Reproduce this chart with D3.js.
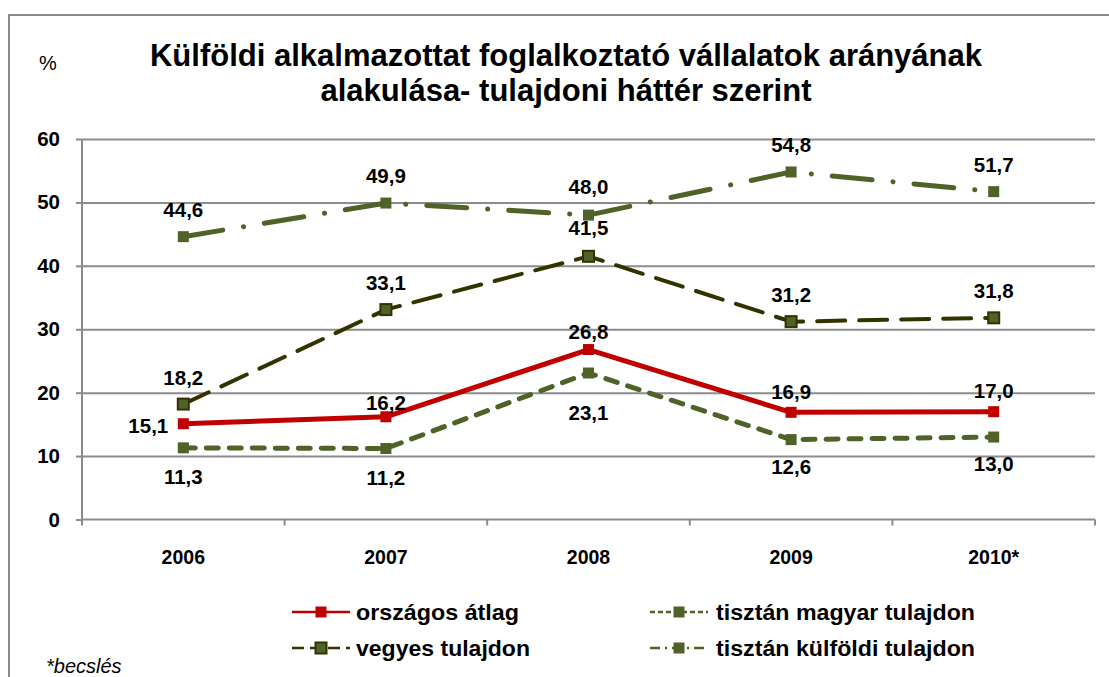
<!DOCTYPE html>
<html>
<head>
<meta charset="utf-8">
<script src="https://cdn.jsdelivr.net/npm/d3@7/dist/d3.min.js"></script>
<style>
  body { margin: 0; background: #fff; }
  text { font-family: Arial, "Liberation Sans", sans-serif; fill: #000; }
</style>
</head>
<body>
<svg id="chart" width="1109" height="677"></svg>
<script>
// Years on the category axis (2010 is an estimate)
const years = ["2006", "2007", "2008", "2009", "2010*"];

// Share of firms employing foreign workers, % by ownership background
const orszagosAtlag    = [15.1, 16.2, 26.8, 16.9, 17.0];
const magyarTulajdon   = [11.3, 11.2, 23.1, 12.6, 13.0];
const vegyesTulajdon   = [18.2, 33.1, 41.5, 31.2, 31.8];
const kulfoldiTulajdon = [44.6, 49.9, 48.0, 54.8, 51.7];

const yTicks = [0, 10, 20, 30, 40, 50, 60];
const seriesNames = ["országos átlag", "tisztán magyar tulajdon", "vegyes tulajdon", "tisztán külföldi tulajdon"];

const titleLines = ["Külföldi alkalmazottat foglalkoztató vállalatok arányának",
                    "alakulása- tulajdoni háttér szerint"];

const svg = d3.select("#chart");
const plot = { left: 82, right: 1095, top: 139, bottom: 519.5 };

const x = d3.scaleBand().domain(years).range([plot.left, plot.right]);
const y = d3.scaleLinear().domain([0, 60]).range([plot.bottom, plot.top]);
const cx = d => x(d) + x.bandwidth() / 2;
const fmt = v => d3.format(".1f")(v).replace(".", ",");

// outer frame
svg.append("rect")
  .attr("x", 9).attr("y", 15).attr("width", 1130).attr("height", 700)
  .attr("fill", "none").attr("stroke", "#8c8c8c").attr("stroke-width", 2);

// title
svg.append("text")
  .attr("x", 566).attr("y", 66)
  .attr("text-anchor", "middle")
  .style("font-size", "31px").style("font-weight", "bold")
  .selectAll("tspan").data(titleLines).join("tspan")
  .attr("x", 566).attr("dy", (d, i) => i === 0 ? 0 : 35)
  .text(d => d);

// unit label
svg.append("text").attr("x", 48).attr("y", 70)
  .attr("text-anchor", "middle").style("font-size", "20px").text("%");

// horizontal gridlines
const grid = svg.append("g").attr("transform", `translate(${plot.left},0)`)
  .call(d3.axisLeft(y).tickValues(yTicks.filter(t => t > 0)).tickSize(-(plot.right - plot.left)).tickFormat(""));
grid.select(".domain").remove();
grid.selectAll("line").attr("stroke", "#8c8c8c").attr("stroke-width", 2);

// y axis
const yAxis = svg.append("g").attr("transform", `translate(${plot.left},0)`)
  .call(d3.axisLeft(y).tickValues(yTicks).tickSize(6).tickPadding(16).tickFormat(d3.format("d")));
yAxis.select(".domain").attr("stroke", "#8c8c8c").attr("stroke-width", 2)
  .attr("d", `M0,${plot.top}V${plot.bottom}`);
yAxis.selectAll("line").attr("stroke", "#8c8c8c").attr("stroke-width", 2);
yAxis.selectAll("text").style("font-size", "20.5px").style("font-weight", "bold");

// x axis: baseline with ticks at category boundaries
const xAxis = svg.append("g").attr("transform", `translate(0,${plot.bottom})`);
xAxis.append("line").attr("x1", plot.left).attr("x2", plot.right)
  .attr("stroke", "#8c8c8c").attr("stroke-width", 2);
xAxis.selectAll("line.tick").data(years.map(d => x(d)).concat([plot.right])).join("line")
  .attr("class", "tick")
  .attr("x1", d => d).attr("x2", d => d).attr("y1", 0).attr("y2", 6)
  .attr("stroke", "#8c8c8c").attr("stroke-width", 2);
xAxis.selectAll("text").data(years).join("text")
  .attr("x", d => cx(d)).attr("y", 44)
  .attr("text-anchor", "middle")
  .style("font-size", "19.5px").style("font-weight", "bold")
  .text(d => d);

// series styling and label placement
const series = [
  { name: seriesNames[2], values: vegyesTulajdon, color: "#333300", width: 4, dash: "28,14",
    mFill: "#4f6228", mStroke: "#333300", legendDash: "12,6",
    labelDy: [-26, -27, -28, -27, -27], labelDx: [0, 0, 0, 0, 0] },
  { name: seriesNames[3], values: kulfoldiTulajdon, color: "#4f6228", width: 5, dash: "40,21,0.1,21",
    mFill: "#4f6228", mStroke: "#4f6228", legendDash: "10,5,2,5",
    labelDy: [-27, -27, -28, -27, -27], labelDx: [0, 0, 0, 0, 0] },
  { name: seriesNames[1], values: magyarTulajdon, color: "#4f6228", width: 5, dash: "12,11",
    mFill: "#4f6228", mStroke: "#4f6228", legendDash: "5,3",
    labelDy: [29, 29, 40, 27, 27], labelDx: [0, 0, 0, 0, 0] },
  { name: seriesNames[0], values: orszagosAtlag, color: "#c00000", width: 5, dash: null,
    mFill: "#c00000", mStroke: "#c00000", legendDash: null,
    labelDy: [2, -14, -18, -21, -21], labelDx: [-35, 0, 0, 0, 0] }
];

const line = d3.line().x(d => cx(d.year)).y(d => y(d.v));
const marker = 11;

series.forEach(s => {
  const pts = years.map((yr, i) => ({ year: yr, v: s.values[i], i }));
  const g = svg.append("g");
  g.append("path").datum(pts)
    .attr("d", line)
    .attr("fill", "none")
    .attr("stroke", s.color)
    .attr("stroke-width", s.width)
    .attr("stroke-linecap", s.dash ? "round" : "butt")
    .attr("stroke-linejoin", "round")
    .attr("stroke-dasharray", s.dash);
  g.selectAll("rect").data(pts).join("rect")
    .attr("x", d => cx(d.year) - marker / 2)
    .attr("y", d => y(d.v) - marker / 2)
    .attr("width", marker).attr("height", marker)
    .attr("fill", s.mFill)
    .attr("stroke", s.mStroke).attr("stroke-width", s.mStroke === s.mFill ? 0 : 2);
  g.selectAll("text").data(pts).join("text")
    .attr("x", d => cx(d.year) + s.labelDx[d.i])
    .attr("y", d => y(d.v) + s.labelDy[d.i])
    .attr("dy", "0.35em")
    .attr("text-anchor", "middle")
    .style("font-size", "20.5px").style("font-weight", "bold")
    .text(d => fmt(d.v));
});

// legend (2 x 2)
const legendItems = [
  { s: series[3], x: 292, y: 612, tx: 356, tw: 163 },
  { s: series[2], x: 650, y: 612, tx: 716, tw: 259 },
  { s: series[0], x: 292, y: 648, tx: 356, tw: 174 },
  { s: series[1], x: 650, y: 648, tx: 716, tw: 259 }
];
const legend = svg.append("g");
legendItems.forEach(it => {
  const g = legend.append("g");
  g.append("line")
    .attr("x1", it.x).attr("x2", it.x + 58).attr("y1", it.y).attr("y2", it.y)
    .attr("stroke", it.s.color).attr("stroke-width", 2.5)
    .attr("stroke-dasharray", it.s.legendDash);
  g.append("rect")
    .attr("x", it.x + 29 - 5.5).attr("y", it.y - 5.5).attr("width", 11).attr("height", 11)
    .attr("fill", it.s.mFill)
    .attr("stroke", it.s.mStroke).attr("stroke-width", it.s.mStroke === it.s.mFill ? 0 : 2);
  g.append("text")
    .attr("x", it.tx).attr("y", it.y).attr("dy", "0.36em")
    .attr("textLength", it.tw).attr("lengthAdjust", "spacingAndGlyphs")
    .style("font-size", "22px").style("font-weight", "bold")
    .text(it.s.name);
});

// footnote
svg.append("text").attr("x", 46).attr("y", 673)
  .style("font-size", "20px").style("font-style", "italic")
  .text("*becslés");
</script>
</body>
</html>
